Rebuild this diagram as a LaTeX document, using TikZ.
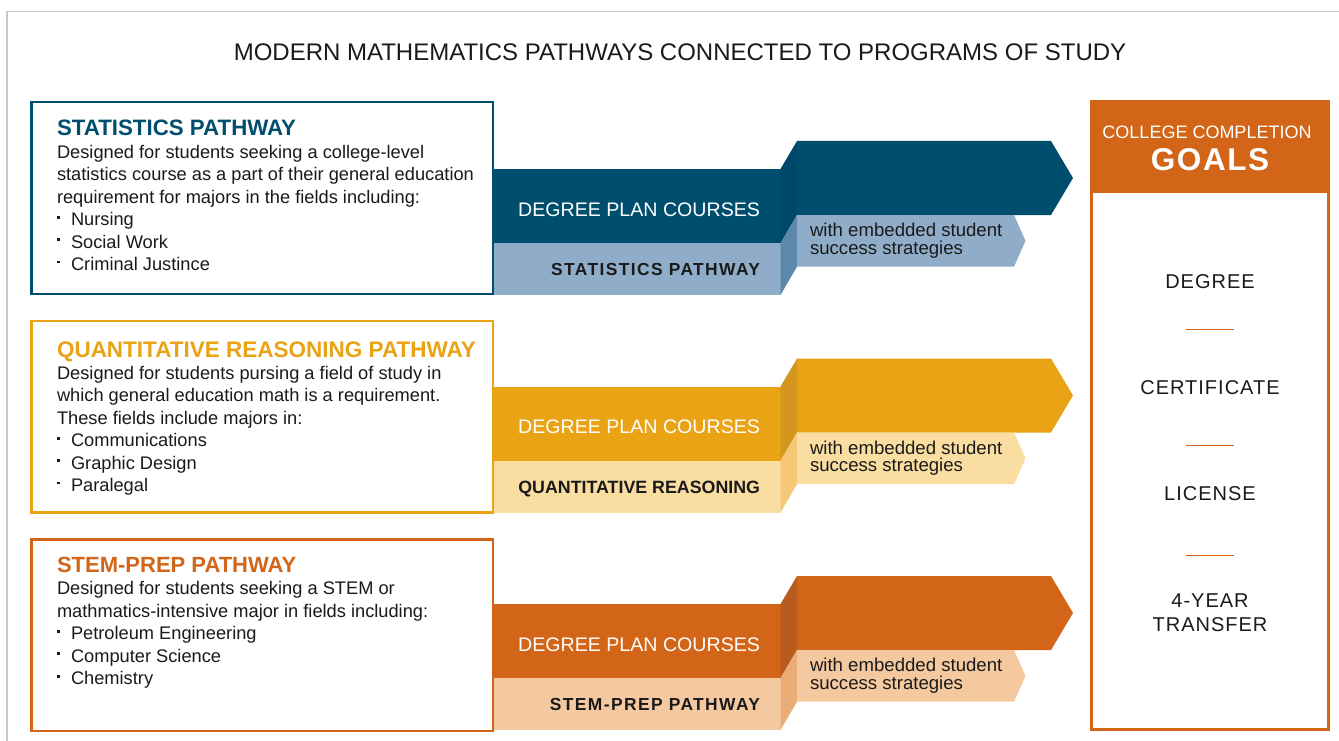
\documentclass[tikz,border=0pt]{standalone}
\usepackage{fontspec}
\setmainfont{Liberation Sans}
\newfontfamily\widefont[LetterSpace=5]{Liberation Sans}
\newfontfamily\bandfont[LetterSpace=8]{Liberation Sans}
\usetikzlibrary{positioning}

\definecolor{statdark}{HTML}{004E6D}
\definecolor{statlight}{HTML}{8FADC8}
\definecolor{statfacet}{HTML}{00486A}
\definecolor{statlfacet}{HTML}{5E88AA}
\definecolor{quantdark}{HTML}{E9A314}
\definecolor{quantlight}{HTML}{FADDA0}
\definecolor{quantfacet}{HTML}{D3961F}
\definecolor{quantlfacet}{HTML}{F5C878}
\definecolor{stemdark}{HTML}{D36518}
\definecolor{stemlight}{HTML}{F5C9A0}
\definecolor{stemfacet}{HTML}{B95B1E}
\definecolor{stemlfacet}{HTML}{EBAD78}
\definecolor{framegray}{HTML}{C8C8C8}
\definecolor{inktext}{HTML}{1A1A1A}

\newcommand{\sqitem}[1]{\makebox[14pt][l]{\rule[7pt]{2.8pt}{2.8pt}}#1}

\begin{document}
\begin{tikzpicture}[x=1pt, y=-1pt,
  every node/.style={inner sep=0pt, outer sep=0pt},
  pathbox/.style={draw, line width=2.5pt, fill=white, minimum width=461.5, minimum height=191.5},
  boxtext/.style={anchor=base west, text=inktext},
  plantext/.style={anchor=base east, text=white, font=\fontsize{19.6}{24}\selectfont},
  bandtext/.style={anchor=base east, text=inktext, font=\bfseries\fontsize{17.4}{20}\selectfont},
  embtext/.style={anchor=base west, text=inktext},
  goal/.style={anchor=base, text=inktext, font=\widefont\fontsize{20}{24}\selectfont},
  goalrule/.style={stemdark, line width=1pt}
  ]
  \useasboundingbox[fill=white] (0,0) rectangle (1339,741);
  \draw[framegray, line width=1.5pt] (7,760) -- (7,11.5) -- (1360,11.5);

  \node[anchor=base, text=inktext, font=\fontsize{24}{28}\selectfont] (title) at (680,61)
    {MODERN MATHEMATICS PATHWAYS CONNECTED TO PROGRAMS OF STUDY};

  % arrows, one per pathway
  \foreach \dy/\pw/\lab in {0/stat/{\bandfont STATISTICS PATHWAY},
                            217.5/quant/{\fontsize{17.8}{20}\selectfont QUANTITATIVE REASONING},
                            435/stem/{\bandfont STEM-PREP PATHWAY}} {
    \fill[\pw dark] (490,169+\dy) rectangle (780.5,243.3+\dy);
    \fill[\pw light] (490,243.3+\dy) rectangle (780.5,295+\dy);
    \fill[\pw facet] (780.5,169+\dy) -- (797,141+\dy) -- (797,215+\dy) -- (780.5,243.3+\dy) -- cycle;
    \fill[\pw lfacet] (780.5,243.3+\dy) -- (797,215+\dy) -- (797,266.7+\dy) -- (780.5,295+\dy) -- cycle;
    \fill[\pw dark] (797,141+\dy) -- (1051,141+\dy) -- (1073,178+\dy) -- (1051,215+\dy) -- (797,215+\dy) -- cycle;
    \fill[\pw light] (797,215+\dy) -- (1014,215+\dy) -- (1025.5,240.8+\dy) -- (1014,266.7+\dy) -- (797,266.7+\dy) -- cycle;
    \node[plantext] (\pw plan) at (760,216+\dy) {DEGREE PLAN COURSES};
    \node[bandtext] (\pw band) at (760,275.7+\dy) {\lab};
    \node[embtext] (\pw emb) at (810,236.7+\dy)
      {\parbox[t]{220pt}{\raggedright\fontsize{18.6}{17.5}\selectfont with embedded student\\success strategies}};
  }

  % pathway boxes
  \node[pathbox, draw=statdark, anchor=north west] (statbox) at (31.25,102.25) {};
  \node[pathbox, draw=quantdark, below=27pt of statbox] (quantbox) {};
  \node[pathbox, draw=stemdark, below=27pt of quantbox] (stembox) {};

  \node[boxtext] (stattext) at (57,136) {\parbox[t]{440pt}{\leavevmode\raggedright\fontsize{18.25}{22.4}\selectfont
    {\bfseries\fontsize{22.3}{22.4}\selectfont\color{statdark}STATISTICS PATHWAY}\\
    Designed for students seeking a college-level\\
    statistics course as a part of their general education\\
    requirement for majors in the fields including:\\
    \sqitem{Nursing}\\
    \sqitem{Social Work}\\
    \sqitem{Criminal Justince}}};
  \node[boxtext] (quanttext) at (57,357) {\parbox[t]{440pt}{\leavevmode\raggedright\fontsize{18.25}{22.4}\selectfont
    {\bfseries\fontsize{22.5}{22.4}\selectfont\color{quantdark}QUANTITATIVE REASONING PATHWAY}\\
    Designed for students pursing a field of study in\\
    which general education math is a requirement.\\
    These fields include majors in:\\
    \sqitem{Communications}\\
    \sqitem{Graphic Design}\\
    \sqitem{Paralegal}}};
  \node[boxtext] (stemtext) at (57,572.5) {\parbox[t]{440pt}{\leavevmode\raggedright\fontsize{18.25}{22.4}\selectfont
    {\bfseries\fontsize{22}{22.4}\selectfont\color{stemdark}STEM-PREP PATHWAY}\\
    Designed for students seeking a STEM or\\
    mathmatics-intensive major in fields including:\\
    \sqitem{Petroleum Engineering}\\
    \sqitem{Computer Science}\\
    \sqitem{Chemistry}}};

  % goals column
  \node[draw=stemdark, line width=3pt, fill=white, minimum width=237, minimum height=627,
    anchor=north west] (goalbox) at (1091.5,102) {};
  \node[fill=stemdark, minimum width=240, minimum height=92.5, anchor=north west] (goalhead) at (1090,100.5) {};
  \node[anchor=base, text=white, font=\fontsize{18}{22}\selectfont] (college) at (1207,138.6) {COLLEGE COMPLETION};
  \node[anchor=base, text=white, font=\widefont\bfseries\fontsize{31.5}{36}\selectfont] (goals) at (1210,171) {GOALS};

  \node[goal] (degree) at (1210,288.5) {DEGREE};
  \node[goal] (cert) at (1210,394) {CERTIFICATE};
  \node[goal] (license) at (1210,500.3) {LICENSE};
  \node[goal] (fouryear) at (1210,607) {4-YEAR};
  \node[goal] (transfer) at (1210,631) {TRANSFER};
  \draw[goalrule] (1186,329.6) -- (1234,329.6);
  \draw[goalrule] (1186,445) -- (1234,445);
  \draw[goalrule] (1186,555) -- (1234,555);
\end{tikzpicture}
\end{document}
